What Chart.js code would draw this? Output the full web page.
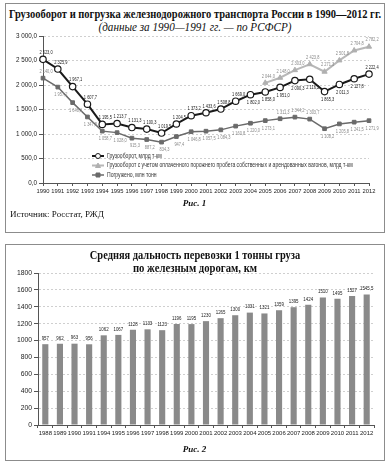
<!DOCTYPE html>
<html>
<head>
<meta charset="utf-8">
<script src="https://cdn.jsdelivr.net/npm/chart.js@4.4.1/dist/chart.umd.min.js"></script>
<style>
  body { margin: 0; background: #fff; width: 389px; height: 464px; position: relative; overflow: hidden; font-family: 'Liberation Serif', serif; color: #111; }
  .box { position: absolute; border: 1px solid #8c8c8c; box-sizing: border-box; }
  .t { position: absolute; left: 0; width: 389px; height: 15px; text-align: center; white-space: nowrap; }
  .t span { position: absolute; left: 50%; top: 0; transform-origin: center; }
  canvas { position: absolute; }
</style>
</head>
<body>
<div class="box" style="left:5px;top:3px;width:380px;height:230px"></div>
<div class="t" style="top:7px;font-weight:bold;font-size:12px;"><span data-w="372">Грузооборот и погрузка железнодорожного транспорта России в 1990—2012 гг.</span></div>
<div class="t" style="top:20px;font-style:italic;font-size:12px;"><span data-w="193">(данные за 1990—1991 гг. — по РСФСР)</span></div>
<div style="position:absolute;left:6px;top:30px;width:378px;height:170px"><canvas id="c1"></canvas></div>
<div class="t" style="top:198px;font-style:italic;font-weight:bold;font-size:9px;">Рис. 1</div>
<div class="t" style="left:10px;width:auto;text-align:left;top:209px;font-size:9px;">Источник: Росстат, РЖД</div>

<div class="box" style="left:5px;top:244px;width:380px;height:217px"></div>
<div class="t" style="top:247px;font-weight:bold;font-size:13px;"><span data-w="210">Средняя дальность перевозки 1 тонны груза</span></div>
<div class="t" style="top:260px;font-weight:bold;font-size:13px;"><span data-w="124">по железным дорогам, км</span></div>
<div style="position:absolute;left:6px;top:265px;width:378px;height:175px"><canvas id="c2"></canvas></div>
<div class="t" style="top:444px;font-style:italic;font-weight:bold;font-size:9px;">Рис. 2</div>

<script>
// squeeze each title to the width it has in the scan
document.querySelectorAll('.t span[data-w]').forEach(el => {
  const k = Number(el.dataset.w) / el.offsetWidth;
  el.style.transform = 'translateX(-50%) scaleX(' + k + ')';
});

// --- data, fig. 1
const years1 = ['1990','1991','1992','1993','1994','1995','1996','1997','1998','1999','2000','2001',
                '2002','2003','2004','2005','2006','2007','2008','2009','2010','2011','2012'];
const freight = [2523.0, 2325.9, 1967.1, 1607.7, 1195.5, 1213.7, 1131.3, 1100.3, 1019.5, 1204.5, 1373.2, 1433.6,
                 1508.8, 1669.0, 1802.0, 1858.0, 1951.0, 2090.3, 2116.2, 1865.3, 2011.3, 2127.8, 2222.4];
const freightEmpty = [null, null, null, null, null, null, null, null, null, null, null, null,
                      null, null, null, 2044.0, 2148.0, 2303.0, 2423.8, 2271.3, 2501.8, 2704.8, 2782.2];
const loaded = [2140.0, 1957.2, 1640.1, 1347.8, 1058.7, 1028.0, 915.3, 887.2, 834.3, 947.4, 1046.8, 1057.5,
                1084.3, 1160.8, 1220.0, 1273.1, 1311.3, 1344.2, 1303.7, 1108.2, 1205.8, 1241.5, 1271.9];

// --- data, fig. 2
const years2 = ['1988','1989','1990','1991','1994','1995','1996','1997','1998','1999','2000','2001',
                '2002','2003','2004','2005','2006','2007','2008','2009','2010','2011','2012'];
const avgHaul = [957, 962, 963, 956, 1062, 1067, 1128, 1133, 1123, 1196, 1195, 1230,
                 1265, 1300, 1331, 1321, 1359, 1395, 1424, 1510, 1495, 1527, 1545.5];

const SANS = "'Liberation Sans', Arial, sans-serif";

function fmtRu(v) {
  const s = v.toFixed(1).replace('.', ',');
  const [a, b] = s.split(',');
  return a.replace(/\B(?=(\d{3})+(?!\d))/g, ' ') + ',' + b;
}

// squeezed text, like the narrow font of the original
function narrowText(ctx, txt, x, y, sx) {
  ctx.save();
  ctx.translate(x, y);
  ctx.scale(sx, 1);
  ctx.fillText(txt, 0, 0);
  ctx.restore();
}

// which labels go under the point (by index)
const belowFreight = new Set([14, 15, 16, 17, 18, 19, 20, 21]);
const aboveLoaded = new Set([0, 16, 17, 18]);

const pointLabels = {
  id: 'pointLabels',
  afterDatasetsDraw(chart) {
    const ctx = chart.ctx;
    ctx.save();
    ctx.font = '5.5px ' + SANS;
    ctx.textAlign = 'center';
    chart.data.datasets.forEach((ds, di) => {
      const meta = chart.getDatasetMeta(di);
      meta.data.forEach((pt, i) => {
        const v = ds.data[i];
        if (v == null) return;
        let below;
        if (di === 0) below = belowFreight.has(i);
        else if (di === 1) below = false;
        else below = !aboveLoaded.has(i);
        ctx.fillStyle = di === 0 ? '#222' : '#8a8a8a';
        ctx.textBaseline = below ? 'top' : 'bottom';
        narrowText(ctx, fmtRu(v), pt.x + 3, below ? pt.y + 5 : pt.y - 4, 0.72);
      });
    });
    ctx.restore();
  }
};

const innerLegend = {
  id: 'innerLegend',
  afterDraw(chart) {
    const ctx = chart.ctx;
    ctx.save();
    ctx.font = '6.5px ' + SANS;
    ctx.textBaseline = 'middle';
    chart.data.datasets.forEach((ds, i) => {
      const x = 86, y = 126 + i * 9.5;
      ctx.strokeStyle = ds.borderColor;
      ctx.lineWidth = ds.borderWidth;
      ctx.beginPath(); ctx.moveTo(x, y); ctx.lineTo(x + 12, y); ctx.stroke();
      ctx.fillStyle = ds.pointBackgroundColor;
      ctx.strokeStyle = ds.pointBorderColor;
      ctx.lineWidth = 1;
      const cx = x + 6;
      ctx.beginPath();
      if (ds.pointStyle === 'circle') ctx.arc(cx, y, 2.5, 0, Math.PI * 2);
      else if (ds.pointStyle === 'rect') ctx.rect(cx - 2, y - 2, 4, 4);
      else { ctx.moveTo(cx, y - 2.5); ctx.lineTo(cx + 2.5, y + 2); ctx.lineTo(cx - 2.5, y + 2); ctx.closePath(); }
      ctx.fill(); ctx.stroke();
      ctx.fillStyle = '#333';
      narrowText(ctx, ds.label, x + 15, y, 0.78);
    });
    ctx.restore();
  }
};

new Chart(document.getElementById('c1'), {
  type: 'line',
  data: {
    labels: years1,
    datasets: [{
      label: 'Грузооборот, млрд т-км',
      data: freight,
      borderColor: '#1a1a1a', borderWidth: 2,
      pointStyle: 'circle', pointRadius: 3.2,
      pointBackgroundColor: '#fff', pointBorderColor: '#1a1a1a', pointBorderWidth: 1.2
    }, {
      label: 'Грузооборот с учетом оплаченного порожнего пробега собственных и арендованных вагонов, млрд т-км',
      data: freightEmpty,
      borderColor: '#b8b8b8', borderWidth: 2,
      pointStyle: 'triangle', pointRadius: 3,
      pointBackgroundColor: '#b0b0b0', pointBorderColor: '#b0b0b0', pointBorderWidth: 1
    }, {
      label: 'Погружено, млн тонн',
      data: loaded,
      borderColor: '#6a6a6a', borderWidth: 1.5,
      pointStyle: 'rect', pointRadius: 2.6,
      pointBackgroundColor: '#6a6a6a', pointBorderColor: '#6a6a6a', pointBorderWidth: 1
    }]
  },
  options: {
    responsive: true, maintainAspectRatio: false, animation: false,
    layout: { padding: { top: 6, right: 15, left: 0, bottom: 0 } },
    plugins: { legend: { display: false }, tooltip: { enabled: false } },
    scales: {
      x: {
        afterFit(s) { s.height = 17; },
        grid: { drawOnChartArea: false, tickLength: 3, color: '#555' },
        border: { color: '#555' },
        ticks: { color: '#222', font: { size: 5.8, family: SANS }, maxRotation: 0, autoSkip: false, padding: 2 }
      },
      y: {
        min: 0, max: 3000,
        afterFit(s) { s.width = 37; },
        grid: { color: '#cfcfcf', tickColor: '#555', tickLength: 4 },
        border: { color: '#555', dash: [2, 2] },
        ticks: { stepSize: 500, color: '#222', font: { size: 6.3, family: SANS }, padding: 2, callback: v => fmtRu(v) }
      }
    }
  },
  plugins: [pointLabels, innerLegend]
});

const barLabels = {
  id: 'barLabels',
  afterDatasetsDraw(chart) {
    const ctx = chart.ctx;
    ctx.save();
    ctx.font = '5.5px ' + SANS;
    ctx.fillStyle = '#222';
    ctx.textAlign = 'center';
    ctx.textBaseline = 'bottom';
    chart.getDatasetMeta(0).data.forEach((bar, i) => {
      narrowText(ctx, String(avgHaul[i]).replace('.', ','), bar.x, bar.y - 3, 0.8);
    });
    ctx.restore();
  }
};

new Chart(document.getElementById('c2'), {
  type: 'bar',
  data: {
    labels: years2,
    datasets: [{
      data: avgHaul,
      backgroundColor: '#8a8a8a',
      borderWidth: 0,
      barPercentage: 0.42, categoryPercentage: 1
    }]
  },
  options: {
    responsive: true, maintainAspectRatio: false, animation: false,
    layout: { padding: { top: 8, right: 10, left: 0, bottom: 0 } },
    plugins: { legend: { display: false }, tooltip: { enabled: false } },
    scales: {
      x: {
        afterFit(s) { s.height = 15; },
        grid: { drawOnChartArea: false, tickLength: 3, color: '#555' },
        border: { color: '#555' },
        ticks: { color: '#222', font: { size: 6, family: SANS }, maxRotation: 0, autoSkip: false, padding: 2 }
      },
      y: {
        min: 0, max: 1800,
        afterFit(s) { s.width = 32; },
        grid: { color: '#cfcfcf', tickColor: '#555', tickLength: 4 },
        border: { color: '#555', dash: [2, 2] },
        ticks: { stepSize: 200, color: '#222', font: { size: 6.8, family: SANS }, padding: 2, callback: v => String(v) }
      }
    }
  },
  plugins: [barLabels]
});
</script>
</body>
</html>
